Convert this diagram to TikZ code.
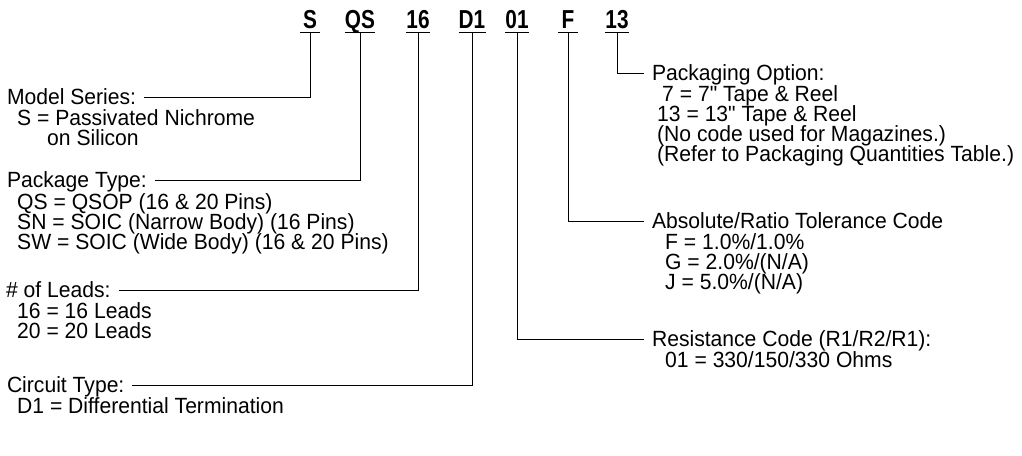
\documentclass[tikz,border=0pt]{standalone}
\usepackage{fontspec}
\setmainfont{Liberation Sans}[FakeStretch=0.96,Ligatures=TeXOff]
\newfontfamily\codefont{Liberation Sans}[FakeStretch=0.8]
\usetikzlibrary{positioning}

\begin{document}
\begin{tikzpicture}[x=1pt,y=-1pt,
  code/.style={font=\fontsize{26}{26}\selectfont\codefont\bfseries, anchor=base,
    minimum width=19pt, inner xsep=0pt, inner ysep=4pt, text depth=0pt},
  title/.style={font=\fontsize{22}{20}\selectfont, anchor=west,
    inner sep=0pt, outer xsep=8pt, outer ysep=0pt, text height=15pt, text depth=0pt},
  item/.style={font=\fontsize{22}{20}\selectfont, anchor=base west, inner sep=0pt},
  lead/.style={line width=0.8pt}]
\useasboundingbox (0,0) rectangle (1022,455);

% part number
\node [code] (cS)  at (310,28) {S};
\node [code] (cQS) at (360,28) {QS};
\node [code] (c16) at (418,28) {16};
\node [code] (cD1) at (472,28) {D1};
\node [code] (c01) at (517,28) {01};
\node [code] (cF)  at (568,28) {F};
\node [code] (c13) at (617,28) {13};
\foreach \c in {cS,cQS,c16,cD1,c01,cF,c13}
  \draw [lead] (\c.south west) -- (\c.south east);

% left column
\node [title] (ms) at (-1,97) {Model Series:};
\node [item] (ms1) at (17,125) {S = Passivated Nichrome};
\node [item] (ms2) at (47,145) {on Silicon};

\node [title] (pt) at (-1,180) {Package Type:};
\node [item] (pt1) at (17,209) {QS = QSOP (16 \& 20 Pins)};
\node [item] (pt2) at (17,229) {SN = SOIC (Narrow Body) (16 Pins)};
\node [item] (pt3) at (17,249) {SW = SOIC (Wide Body) (16 \& 20 Pins)};

\node [title] (nl) at (-2,290) {\# of Leads:};
\node [item] (nl1) at (17,318) {16 = 16 Leads};
\node [item] (nl2) at (17,338) {20 = 20 Leads};

\node [title] (ct) at (-1,385) {Circuit Type:};
\node [item] (ct1) at (17,413) {D1 = Differential Termination};

% right column
\node [title] (po) at (644,73) {Packaging Option:};
\node [item] (po1) at (662,101) {7 = 7" Tape \& Reel};
\node [item] (po2) at (657,121) {13 = 13" Tape \& Reel};
\node [item] (po3) at (657,141) {(No code used for Magazines.)};
\node [item] (po4) at (657,161) {(Refer to Packaging Quantities Table.)};

\node [title] (tc) at (644,221) {Absolute/Ratio Tolerance Code};
\node [item] (tc1) at (665,249) {F = 1.0\%/1.0\%};
\node [item] (tc2) at (665,269) {G = 2.0\%/(N/A)};
\node [item] (tc3) at (665,289) {J = 5.0\%/(N/A)};

\node [title] (rc) at (644,339) {Resistance Code (R1/R2/R1):};
\node [item] (rc1) at (665,367) {01 = 330/150/330 Ohms};

% leaders
\draw [lead] (ms.east) -| (cS.south);
\draw [lead] (pt.east) -| (cQS.south);
\draw [lead] (nl.east) -| (c16.south);
\draw [lead] (ct.east) -| (cD1.south);
\draw [lead] (c13.south) |- (po.west);
\draw [lead] (cF.south) |- (tc.west);
\draw [lead] (c01.south) |- (rc.west);
\end{tikzpicture}
\end{document}
